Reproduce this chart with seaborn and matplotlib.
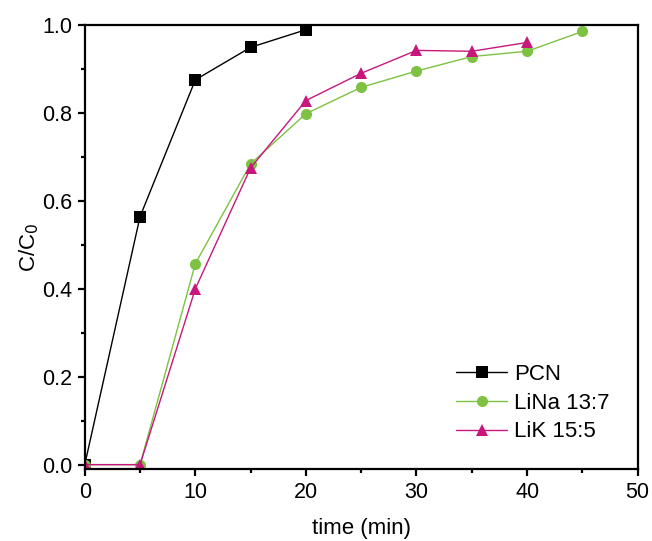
import matplotlib
matplotlib.use("Agg")
import matplotlib.pyplot as plt
from matplotlib.ticker import MultipleLocator
import seaborn as sns
import pandas as pd

# values
pcn_time = [0, 5, 10, 15, 20]
pcn_ratio = [0.0, 0.564, 0.875, 0.949, 0.989]

lina_time = [0, 5, 10, 15, 20, 25, 30, 35, 40, 45]
lina_ratio = [0.0, 0.0, 0.457, 0.684, 0.798, 0.858, 0.895, 0.928, 0.940, 0.985]

lik_time = [0, 5, 10, 15, 20, 25, 30, 35, 40]
lik_ratio = [0.0, 0.0, 0.400, 0.675, 0.828, 0.890, 0.942, 0.940, 0.960]

SERIES = ["PCN", "LiNa 13:7", "LiK 15:5"]
COLORS = {"PCN": "#000000", "LiNa 13:7": "#7dc242", "LiK 15:5": "#c8177c"}
MARKERS = {"PCN": "s", "LiNa 13:7": "o", "LiK 15:5": "^"}


def build_frame() -> pd.DataFrame:
    parts = []
    for name, t, r in [
        ("PCN", pcn_time, pcn_ratio),
        ("LiNa 13:7", lina_time, lina_ratio),
        ("LiK 15:5", lik_time, lik_ratio),
    ]:
        parts.append(pd.DataFrame({"time": t, "ratio": r, "Sample": name}))
    return pd.concat(parts, ignore_index=True)


sns.set_style("ticks", {"axes.edgecolor": "black", "xtick.color": "black",
                        "ytick.color": "black", "text.color": "black",
                        "axes.labelcolor": "black"})
plt.rcParams["font.family"] = ["Liberation Sans", "DejaVu Sans"]

df = build_frame()

fig = plt.figure(figsize=(6.52, 5.41), dpi=100)
ax = fig.add_axes([0.130, 0.133, 0.848, 0.821])

sns.lineplot(
    data=df, x="time", y="ratio", hue="Sample", style="Sample",
    hue_order=SERIES, style_order=SERIES, palette=COLORS,
    markers=MARKERS, dashes=False, markersize=8, linewidth=1,
    markeredgewidth=0, ax=ax,
)

ax.set_xlim(0, 50)
ax.set_ylim(-0.01, 1.0)
ax.xaxis.set_major_locator(MultipleLocator(10))
ax.xaxis.set_minor_locator(MultipleLocator(5))
ax.yaxis.set_minor_locator(MultipleLocator(0.1))
ax.set_yticks([0, 0.2, 0.4, 0.6, 0.8, 1.0])
ax.set_yticklabels(["0.0", "0.2", "0.4", "0.6", "0.8", "1.0"])

for s in ax.spines.values():
    s.set_linewidth(1.6)
    s.set_color("black")
ax.tick_params(which="major", length=5, width=1.6, labelsize=15.5,
               direction="out", pad=4)
ax.tick_params(which="minor", length=3, width=1.6, direction="out")

ax.set_xlabel("time (min)", fontsize=16, labelpad=11)
ax.set_ylabel("C/C$_0$", fontsize=16, labelpad=1)

leg = ax.legend(loc="lower right", frameon=False, fontsize=16,
                handlelength=2.3, handletextpad=0.3, labelspacing=0.35,
                bbox_to_anchor=(0.985, 0.015))

fig.savefig("out.png", dpi=100)
